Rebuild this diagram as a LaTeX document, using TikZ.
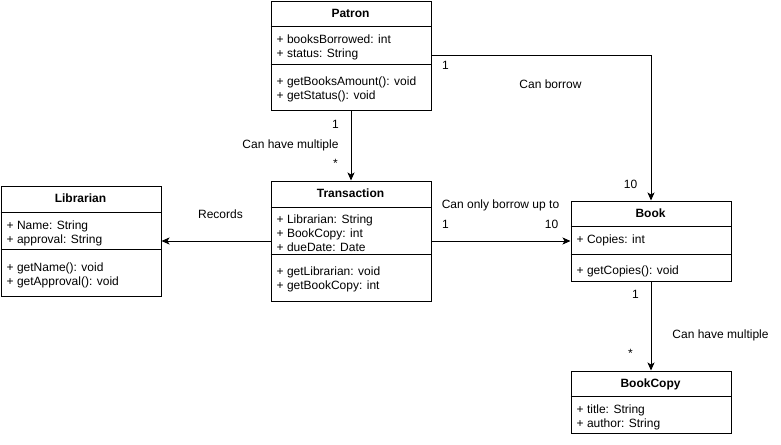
\documentclass[tikz,border=0pt]{standalone}
\usepackage{fontspec}
\setmainfont{Liberation Sans}
\usetikzlibrary{arrows.meta}
\begin{document}
\begin{tikzpicture}[x=1pt,y=-1pt,
  classbox/.style={draw, line width=1pt, anchor=north west, inner sep=0pt, minimum width=160pt},
  txt/.style={inner sep=0pt, font=\fontsize{12}{14}\selectfont, text height=8.6pt, text depth=2.5pt},
  member/.style={txt, anchor=west},
  title/.style={txt, font=\fontsize{12}{14}\selectfont\bfseries},
  divider/.style={line width=1pt},
  link/.style={line width=1pt, -{Stealth[length=8pt, width=7pt, inset=2pt]}}]
\useasboundingbox (0,0) rectangle (781,444);

% half-point shift keeps 1pt rules on whole pixel rows
\begin{scope}[shift={(0.5,0.5)}]
% --- Patron ---
\node[classbox, minimum height=108pt] (patron) at (270,1) {};
\draw[divider] (270,26) -- (430,26);
\draw[divider] (270,64) -- (430,64);
\node[title] (patronT) at (350,14) {Patron};
\node[member] (patronA1) at (276,40) {+ booksBorrowed: int};
\node[member] (patronA2) at (276,54) {+ status: String};
\node[member] (patronM1) at (276,82) {+ getBooksAmount(): void};
\node[member] (patronM2) at (276,96) {+ getStatus(): void};

% --- Librarian ---
\node[classbox, minimum height=110pt] (lib) at (0,185) {};
\draw[divider] (0,212) -- (160,212);
\draw[divider] (0,249) -- (160,249);
\node[title] (libT) at (80,199) {Librarian};
\node[member] (libA1) at (6,226) {+ Name: String};
\node[member] (libA2) at (6,240) {+ approval: String};
\node[member] (libM1) at (6,268) {+ getName(): void};
\node[member] (libM2) at (6,282) {+ getApproval(): void};

% --- Transaction ---
\node[classbox, minimum height=120pt] (trans) at (270,180) {};
\draw[divider] (270,207) -- (430,207);
\draw[divider] (270,254) -- (430,254);
\node[title] (transT) at (350,194) {Transaction};
\node[member] (transA1) at (276,220) {+ Librarian: String};
\node[member] (transA2) at (276,234) {+ BookCopy: int};
\node[member] (transA3) at (276,248) {+ dueDate: Date};
\node[member] (transM1) at (276,272) {+ getLibrarian: void};
\node[member] (transM2) at (276,286) {+ getBookCopy: int};

% --- Book ---
\node[classbox, minimum height=80pt] (book) at (570,200) {};
\draw[divider] (570,226) -- (730,226);
\draw[divider] (570,254) -- (730,254);
\node[title] (bookT) at (650,214) {Book};
\node[member] (bookA1) at (576,240) {+ Copies: int};
\node[member] (bookM1) at (576,271) {+ getCopies(): void};

% --- BookCopy ---
\node[classbox, minimum height=62pt] (copy) at (570,370) {};
\draw[divider] (570,396) -- (730,396);
\node[title] (copyT) at (650,384) {BookCopy};
\node[member] (copyA1) at (576,410) {+ title: String};
\node[member] (copyA2) at (576,424) {+ author: String};

% --- Associations ---
\draw[link] (patron.south) -- (trans.north);
\draw[link] (patron.east) -| (book.north);
\draw[link] (trans.east) -- (book.west);
\draw[link] (trans.west) -- (lib.east);
\draw[link] (book.south) -- (copy.north);

% --- Association labels and multiplicities ---
\node[txt] (m1) at (335,125) {1};
\node[txt] (l1) at (290,145) {Can have multiple};
\node[txt] (m2) at (335,164) {*};
\node[txt] (m3) at (445,66) {1};
\node[txt] (l2) at (550,85) {Can borrow};
\node[txt] (m4) at (630,185) {10};
\node[txt] (l3) at (500,205) {Can only borrow up to};
\node[txt] (m5) at (445,225) {1};
\node[txt] (m6) at (551,225) {10};
\node[txt] (l4) at (220,215) {Records};
\node[txt] (m7) at (635,295) {1};
\node[txt] (l5) at (720,335) {Can have multiple};
\node[txt] (m8) at (630,354) {*};
\end{scope}
\end{tikzpicture}
\end{document}
